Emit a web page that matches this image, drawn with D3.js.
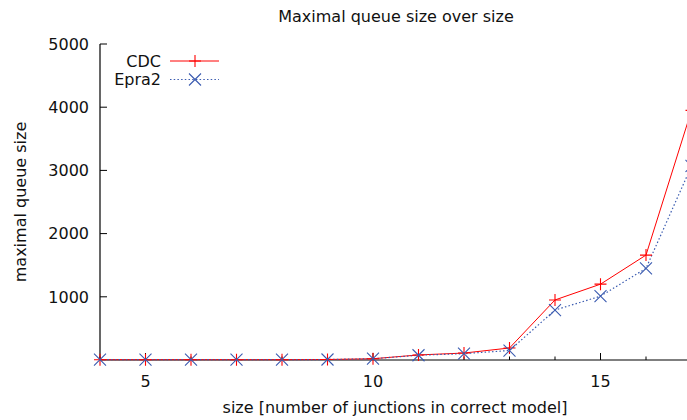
<!DOCTYPE html>
<html><head><meta charset="utf-8">
<script src="https://cdn.jsdelivr.net/npm/d3@7"></script>
<style>
html,body{margin:0;padding:0;background:#fff;}
svg{display:block;font-family:"DejaVu Sans",sans-serif;}
</style></head>
<body>
<svg id="chart" width="687" height="420"></svg>
<script>
const sizes = [4,5,6,7,8,9,10,11,12,13,14,15,16,17];
const cdcValues = [5,5,5,5,5,8,20,80,110,190,950,1200,1660,3950];
const epraValues = [5,5,5,5,5,8,20,75,100,150,790,1010,1450,3070];
const yTicks = [1000,2000,3000,4000,5000];
const xMajorTicks = [5,10,15];
const xMinorTicks = [4,5,6,7,8,9,10,11,12,13,14,15,16,17];
const seriesNames = ["CDC","Epra2"];

const svg = d3.select("#chart");
const W = 687, H = 420;
const x = d3.scaleLinear().domain([4,17]).range([100, 100 + 13*45.5]);
const y = d3.scaleLinear().domain([0,5000]).range([360,44]);
const red = "#ff0000", blue = "#3a5bb0";
const fs = "16px";

// title
svg.append("text").attr("x",396).attr("y",22).attr("text-anchor","middle")
  .attr("font-size",fs).attr("fill","#111").text("Maximal queue size over size");
// axis labels
svg.append("text").attr("x",395).attr("y",413).attr("text-anchor","middle")
  .attr("font-size",fs).attr("fill","#111").text("size [number of junctions in correct model]");
svg.append("text").attr("transform","translate(26,202) rotate(-90)").attr("text-anchor","middle")
  .attr("font-size",fs).attr("fill","#111").text("maximal queue size");

// axes lines
svg.append("line").attr("x1",x(4)).attr("x2",W+10).attr("y1",y(0)).attr("y2",y(0))
  .attr("stroke","#000").attr("stroke-width",1.2);
svg.append("line").attr("x1",x(4)).attr("x2",x(4)).attr("y1",y(0)).attr("y2",y(5000))
  .attr("stroke","#000").attr("stroke-width",1.2);

// y ticks
yTicks.forEach(v=>{
  svg.append("line").attr("x1",x(4)).attr("x2",x(4)+7).attr("y1",y(v)).attr("y2",y(v))
    .attr("stroke","#000").attr("stroke-width",1);
  svg.append("text").attr("x",89).attr("y",y(v)+5.8).attr("text-anchor","end")
    .attr("font-size",fs).attr("fill","#111").text(v);
});
// x ticks
xMinorTicks.forEach(v=>{
  const major = xMajorTicks.includes(v);
  svg.append("line").attr("x1",x(v)).attr("x2",x(v)).attr("y1",y(0)).attr("y2",y(0)-(major?7:3.5))
    .attr("stroke","#000").attr("stroke-width",1);
});
xMajorTicks.forEach(v=>{
  svg.append("text").attr("x",x(v)).attr("y",387).attr("text-anchor","middle")
    .attr("font-size",fs).attr("fill","#111").text(v);
});

const line = d3.line().x(d=>x(d[0])).y(d=>y(d[1]));
const cdc = sizes.map((s,i)=>[s,cdcValues[i]]);
const epra = sizes.map((s,i)=>[s,epraValues[i]]);

function plus(g, cx, cy, col){
  g.append("path").attr("d",`M${cx-6},${cy}H${cx+6}M${cx},${cy-6}V${cy+6}`)
    .attr("stroke",col).attr("stroke-width",1.1).attr("fill","none");
}
function cross(g, cx, cy, col){
  g.append("path").attr("d",`M${cx-6},${cy-6}L${cx+6},${cy+6}M${cx-6},${cy+6}L${cx+6},${cy-6}`)
    .attr("stroke",col).attr("stroke-width",1.1).attr("fill","none");
}

const g = svg.append("g");
g.append("path").attr("d",line(cdc)).attr("fill","none").attr("stroke",red).attr("stroke-width",1);
g.append("path").attr("d",line(epra)).attr("fill","none").attr("stroke",blue).attr("stroke-width",1.2)
  .attr("stroke-dasharray","1.5,2.2");
cdc.forEach(d=>plus(g,x(d[0]),y(d[1]),red));
epra.forEach(d=>cross(g,x(d[0]),y(d[1]),blue));

// legend
svg.append("text").attr("x",161).attr("y",66.5).attr("text-anchor","end")
  .attr("font-size",fs).attr("fill","#111").text(seriesNames[0]);
svg.append("text").attr("x",161).attr("y",85).attr("text-anchor","end")
  .attr("font-size",fs).attr("fill","#111").text(seriesNames[1]);
svg.append("line").attr("x1",170).attr("x2",219).attr("y1",61).attr("y2",61).attr("stroke",red).attr("stroke-width",1);
plus(svg,195,61,red);
svg.append("line").attr("x1",170).attr("x2",219).attr("y1",79.5).attr("y2",79.5).attr("stroke",blue)
  .attr("stroke-width",1.2).attr("stroke-dasharray","1.5,2.2");
cross(svg,195,79.5,blue);
</script>
</body></html>
